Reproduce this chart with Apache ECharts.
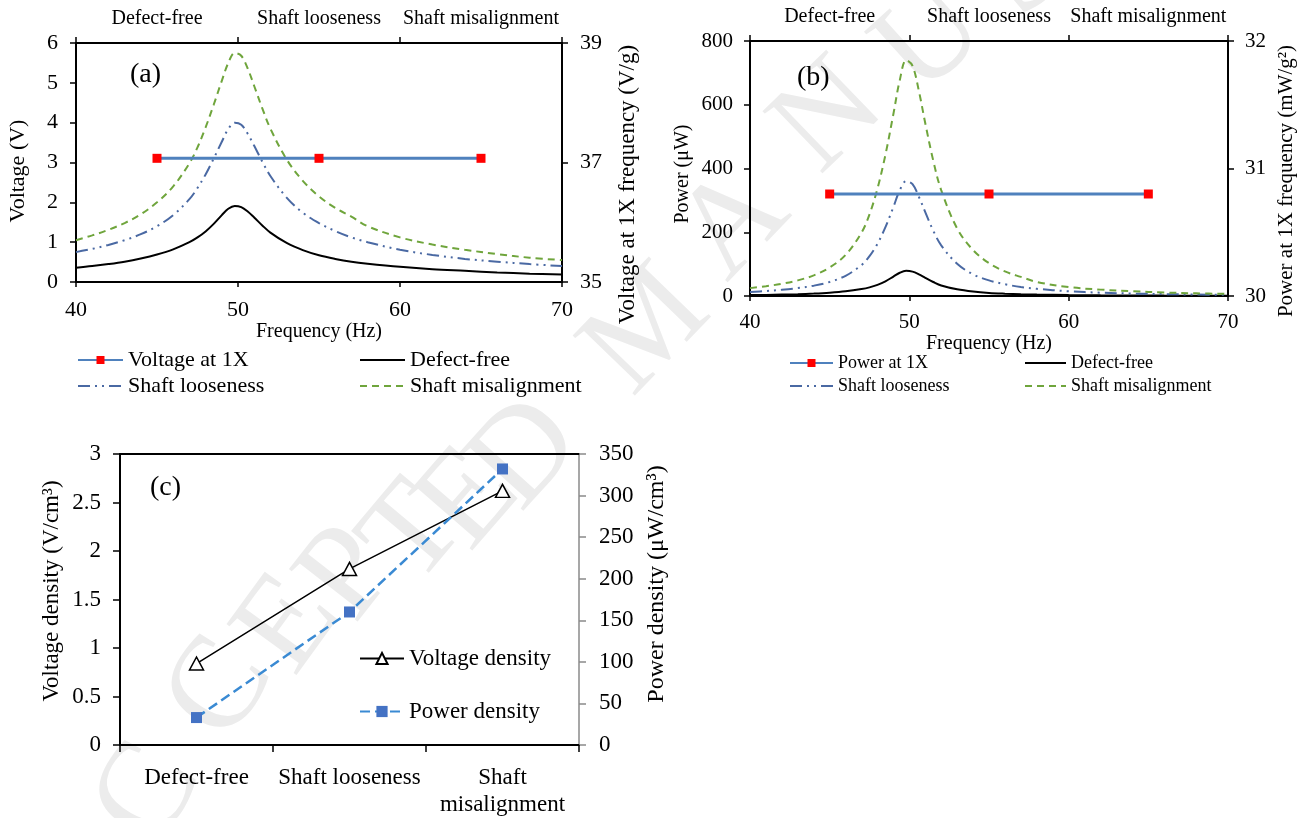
<!DOCTYPE html>
<html>
<head>
<meta charset="utf-8">
<title>Voltage and power response</title>
<script src="https://cdn.jsdelivr.net/npm/echarts@6/dist/echarts.min.js"></script>
<style>
  html, body { margin: 0; padding: 0; background: #ffffff; }
  #chart { width: 1304px; height: 818px; }
</style>
</head>
<body>
<div id="chart"></div>
<script>
// ---- data ----
const categories = ['Defect-free', 'Shaft looseness', 'Shaft misalignment'];

// frequency sweep (Hz)
const freqHz = [40, 41, 42, 43, 44, 45, 46, 47, 47.5, 48, 48.5, 49, 49.4, 49.8, 50.2, 50.6,
                51, 51.5, 52, 53, 54, 55, 56, 57, 58, 60, 62, 64, 66, 68, 70];

// output voltage (V)
const voltDefectFree = [0.36, 0.40, 0.45, 0.51, 0.59, 0.69, 0.82, 1.00, 1.12, 1.27, 1.46, 1.68, 1.84, 1.91, 1.88, 1.77,
                        1.62, 1.42, 1.24, 0.98, 0.80, 0.67, 0.58, 0.51, 0.46, 0.38, 0.32, 0.28, 0.24, 0.21, 0.19];
const voltLooseness = [0.75, 0.83, 0.93, 1.05, 1.20, 1.40, 1.68, 2.08, 2.36, 2.70, 3.10, 3.52, 3.84, 4.00, 3.95, 3.72,
                       3.42, 3.02, 2.66, 2.12, 1.74, 1.48, 1.28, 1.12, 1.00, 0.81, 0.68, 0.58, 0.51, 0.45, 0.40];
const voltMisalignment = [1.05, 1.17, 1.31, 1.48, 1.70, 2.00, 2.40, 2.98, 3.38, 3.88, 4.45, 5.05, 5.50, 5.75, 5.68, 5.36,
                          4.92, 4.36, 3.85, 3.08, 2.54, 2.15, 1.86, 1.64, 1.40, 1.12, 0.94, 0.81, 0.70, 0.61, 0.55];

// output power (μW)
const powDefectFree = [2.8, 3.5, 4.4, 5.6, 7.5, 10.3, 14.6, 21.7, 27, 35, 46, 61, 73, 79, 76.5, 68,
                       57, 44, 33, 21, 14, 9.7, 7.3, 5.6, 4.6, 3.1, 2.2, 1.7, 1.2, 1.0, 0.8];
const powLooseness = [12.7, 15.5, 19.5, 24.8, 32.4, 44, 63.5, 97, 125, 164, 216, 279, 332, 360, 351, 311,
                      263, 205, 159, 101, 68, 49, 37, 28, 22.5, 14.8, 10.4, 7.6, 5.9, 4.6, 3.6];
const powMisalignment = [24.7, 30.6, 38.4, 49, 64.7, 89.5, 129, 199, 256, 337, 443, 571, 677, 740, 722, 643,
                         542, 425, 332, 212, 144, 103, 77, 60, 44, 28, 20, 15, 11, 8.3, 6.8];

// sensitivity at the 1X frequency
const voltageAt1X = [37.07, 37.07, 37.07];   // V/g
const powerAt1X = [30.8, 30.8, 30.8];        // mW/g²

// densities
const voltageDensity = [0.84, 1.815, 2.62];  // V/cm³
const powerDensity = [33, 160, 332];         // μW/cm³

// axis tick values
const voltTicks = [0, 1, 2, 3, 4, 5, 6];
const voltAt1XTicks = [35, 37, 39];
const powTicks = [0, 200, 400, 600, 800];
const powAt1XTicks = [30, 31, 32];

// ---- styling helpers ----
const FONT = "'Liberation Serif', 'Times New Roman', serif";
const BLACK = '#000000';
const C_1X = '#4F81BD';
const C_RED = '#FF0000';
const C_LOOSE = '#4A69A3';
const C_MIS = '#6FA53C';
const DASH_LOOSE = [12, 5, 2, 5, 2, 5];
const DASH_MIS = [7, 5];

const pairs = (xs, ys) => xs.map((x, i) => [x, ys[i]]);

function axisLineStyle(color, width) {
  return { show: true, onZero: false, lineStyle: { color: color || BLACK, width: width || 2 } };
}
function tickStyle(len, color) {
  return { show: true, length: len, lineStyle: { color: color || BLACK, width: 1.5 } };
}
function labelStyle(size, margin, extra) {
  return Object.assign({ fontFamily: FONT, fontSize: size, color: BLACK, margin: margin }, extra || {});
}
function nameStyle(size, padding) {
  return { fontFamily: FONT, fontSize: size, color: BLACK, padding: padding || 0 };
}

const curveSeries = (name, xi, yi, data, color, type, width) => ({
  name: name, type: 'line', xAxisIndex: xi, yAxisIndex: yi,
  data: data, showSymbol: false, symbol: 'none',
  smooth: 0.35,
  lineStyle: { color: color, width: width, type: type },
  itemStyle: { color: color },
  z: 3
});

const flatSeries = (name, xi, yi, data) => ({
  name: name, type: 'line', xAxisIndex: xi, yAxisIndex: yi,
  data: data, symbol: 'rect', symbolSize: 9,
  lineStyle: { color: C_1X, width: 3 },
  itemStyle: { color: C_RED },
  z: 4
});

// legend entry for a plain curve: line only, no marker
const lineOnly = name => ({ name: name, itemStyle: { opacity: 0 } });

const legendBox = (left, top, gap, iw, ih, size, data) => ({
  orient: 'vertical', left: left, top: top, padding: 0,
  itemWidth: iw, itemHeight: ih, itemGap: gap, data: data,
  textStyle: { fontFamily: FONT, fontSize: size, color: BLACK }
});

// ---- background stamp text, laid along an arc ----
const stampText = 'ACCEPTED MANUSCRIPT';
const stampLayout = [
  [92, 885, 62], [150, 795, 60], [222, 690, 57], [290, 625, 54], [350, 575, 52], [415, 535, 50],
  [470, 500, 49], [527, 455, 48], null, [648, 332, 46], [735, 225, 46], [830, 118, 44],
  [932, 40, 42], [1025, -30, 40], [1115, -92, 38], [1200, -150, 36]
];
const stampLetters = [];
let li = 0;
for (const ch of stampText) {
  const pos = stampLayout[li++];
  if (!pos || ch === ' ') continue;
  stampLetters.push({
    type: 'text', silent: true, z: 0,
    x: pos[0], y: pos[1], rotation: pos[2] * Math.PI / 180,
    style: {
      text: ch, fontFamily: FONT, fontSize: 132, fill: '#ececec',
      align: 'center', verticalAlign: 'middle'
    }
  });
}

const panelTag = (txt, x, y) => ({
  type: 'text', silent: true, z: 10, x: x, y: y,
  style: { text: txt, fontFamily: FONT, fontSize: 28, fill: BLACK, align: 'left', verticalAlign: 'middle' }
});

const option = {
  backgroundColor: '#ffffff',
  animation: false,
  graphic: stampLetters.concat([
    panelTag('(a)', 130, 75),
    panelTag('(b)', 797, 78),
    panelTag('(c)', 150, 488)
  ]),
  grid: [
    { left: 76, top: 43, width: 486, height: 239 },
    { left: 750, top: 41, width: 478, height: 255 },
    { left: 120, top: 454, width: 459, height: 292 }
  ],
  xAxis: [
    // (a) frequency
    { gridIndex: 0, type: 'value', min: 40, max: 70, interval: 10, position: 'bottom',
      name: 'Frequency (Hz)', nameLocation: 'middle', nameGap: 40, nameTextStyle: nameStyle(20),
      axisLine: axisLineStyle(), axisTick: tickStyle(5), axisLabel: labelStyle(22, 17), splitLine: { show: false } },
    // (a) fault condition
    { gridIndex: 0, type: 'category', data: categories, position: 'top', boundaryGap: true,
      axisLine: axisLineStyle(), axisTick: tickStyle(6),
      axisLabel: labelStyle(20, 14, { interval: 0 }), splitLine: { show: false } },
    // (b) frequency
    { gridIndex: 1, type: 'value', min: 40, max: 70, interval: 10, position: 'bottom',
      name: 'Frequency (Hz)', nameLocation: 'middle', nameGap: 34, nameTextStyle: nameStyle(20),
      axisLine: axisLineStyle(), axisTick: tickStyle(5), axisLabel: labelStyle(21, 16), splitLine: { show: false } },
    // (b) fault condition
    { gridIndex: 1, type: 'category', data: categories, position: 'top', boundaryGap: true,
      axisLine: axisLineStyle(), axisTick: tickStyle(6),
      axisLabel: labelStyle(20, 14, { interval: 0 }), splitLine: { show: false } },
    // (c) fault condition
    { gridIndex: 2, type: 'category', data: categories, position: 'bottom', boundaryGap: true,
      axisLine: axisLineStyle(), axisTick: tickStyle(7),
      axisLabel: labelStyle(23, 19, {
        lineHeight: 27, interval: 0,
        formatter: v => (v.length > 16 ? v.replace(' ', '\n') : v)
      }),
      splitLine: { show: false } },
    // (c) frame top
    { gridIndex: 2, type: 'category', data: categories, position: 'top', boundaryGap: true,
      axisLine: axisLineStyle(), axisTick: { show: false }, axisLabel: { show: false }, splitLine: { show: false } }
  ],
  yAxis: [
    // (a) voltage
    { gridIndex: 0, type: 'value', min: 0, max: 6, interval: 1, position: 'left',
      name: 'Voltage (V)', nameLocation: 'middle', nameRotate: 90, nameGap: 47,
      nameTextStyle: nameStyle(22, [0, 17, 0, 0]),
      axisLine: axisLineStyle(), axisTick: tickStyle(6),
      axisLabel: labelStyle(22, 18, { customValues: voltTicks }), splitLine: { show: false } },
    // (a) voltage at 1X
    { gridIndex: 0, type: 'value', min: 35, max: 39, position: 'right',
      name: 'Voltage at 1X frequency (V/g)', nameLocation: 'middle', nameRotate: 90, nameGap: 54,
      nameTextStyle: nameStyle(23, [0, 44, 0, 0]),
      axisLine: axisLineStyle(), axisTick: Object.assign(tickStyle(6), { customValues: voltAt1XTicks }),
      axisLabel: labelStyle(22, 18, { customValues: voltAt1XTicks }), splitLine: { show: false } },
    // (b) power
    { gridIndex: 1, type: 'value', min: 0, max: 800, interval: 200, position: 'left',
      name: 'Power (μW)', nameLocation: 'middle', nameRotate: 90, nameGap: 57,
      nameTextStyle: nameStyle(20, [0, 11, 0, 0]),
      axisLine: axisLineStyle(), axisTick: tickStyle(6),
      axisLabel: labelStyle(21, 17, { customValues: powTicks }), splitLine: { show: false } },
    // (b) power at 1X
    { gridIndex: 1, type: 'value', min: 30, max: 32, interval: 1, position: 'right',
      name: 'Power at 1X frequency (mW/g²)', nameLocation: 'middle', nameRotate: 90, nameGap: 48,
      nameTextStyle: nameStyle(21, [0, 25, 0, 0]),
      axisLine: axisLineStyle(), axisTick: Object.assign(tickStyle(6), { customValues: powAt1XTicks }),
      axisLabel: labelStyle(21, 17, { customValues: powAt1XTicks }), splitLine: { show: false } },
    // (c) voltage density
    { gridIndex: 2, type: 'value', min: 0, max: 3, interval: 0.5, position: 'left',
      name: 'Voltage density (V/cm³)', nameLocation: 'middle', nameRotate: 90, nameGap: 57,
      nameTextStyle: nameStyle(23, [0, 0, 0, 17]),
      axisLine: axisLineStyle(), axisTick: tickStyle(7),
      axisLabel: labelStyle(23, 19), splitLine: { show: false } },
    // (c) power density
    { gridIndex: 2, type: 'value', min: 0, max: 350, interval: 50, position: 'right',
      name: 'Power density (μW/cm³)', nameLocation: 'middle', nameRotate: 90, nameGap: 66,
      nameTextStyle: nameStyle(24, [0, 0, 0, 31]),
      axisLine: axisLineStyle('#8a8a8a', 1.5), axisTick: tickStyle(7, '#8a8a8a'),
      axisLabel: labelStyle(23, 20), splitLine: { show: false } }
  ],
  legend: [
    legendBox(77, 349, 4, 45, 10, 22, ['Voltage at 1X', lineOnly('Shaft looseness')]),
    legendBox(359, 349, 4, 45, 10, 22, [lineOnly('Defect-free'), lineOnly('Shaft misalignment')]),
    legendBox(789, 354, 5, 43, 10, 18, ['Power at 1X', lineOnly('Shaft looseness')]),
    legendBox(1024, 354, 5, 41, 10, 18, [lineOnly('Defect-free'), lineOnly('Shaft misalignment')]),
    legendBox(359, 647, 30, 44, 14, 23, ['Voltage density', 'Power density'])
  ],
  series: [
    // (a)
    curveSeries('Defect-free', 0, 0, pairs(freqHz, voltDefectFree), BLACK, 'solid', 2),
    curveSeries('Shaft looseness', 0, 0, pairs(freqHz, voltLooseness), C_LOOSE, DASH_LOOSE, 2),
    curveSeries('Shaft misalignment', 0, 0, pairs(freqHz, voltMisalignment), C_MIS, DASH_MIS, 2),
    flatSeries('Voltage at 1X', 1, 1, voltageAt1X),
    // (b)
    curveSeries('Defect-free', 2, 2, pairs(freqHz, powDefectFree), BLACK, 'solid', 2),
    curveSeries('Shaft looseness', 2, 2, pairs(freqHz, powLooseness), C_LOOSE, DASH_LOOSE, 2),
    curveSeries('Shaft misalignment', 2, 2, pairs(freqHz, powMisalignment), C_MIS, DASH_MIS, 2),
    flatSeries('Power at 1X', 3, 3, powerAt1X),
    // (c)
    { name: 'Voltage density', type: 'line', xAxisIndex: 4, yAxisIndex: 4, data: voltageDensity,
      symbol: 'triangle', symbolSize: [14, 13],
      lineStyle: { color: BLACK, width: 1.5 },
      itemStyle: { color: '#ffffff', borderColor: BLACK, borderWidth: 1.5 }, z: 4 },
    { name: 'Power density', type: 'line', xAxisIndex: 4, yAxisIndex: 5, data: powerDensity,
      symbol: 'rect', symbolSize: 11,
      lineStyle: { color: '#3A8AD3', width: 2.5, type: [10, 5] },
      itemStyle: { color: '#4472C4' }, z: 4 }
  ]
};

const chart = echarts.init(document.getElementById('chart'), null, { renderer: 'canvas' });
chart.setOption(option);
</script>
</body>
</html>
